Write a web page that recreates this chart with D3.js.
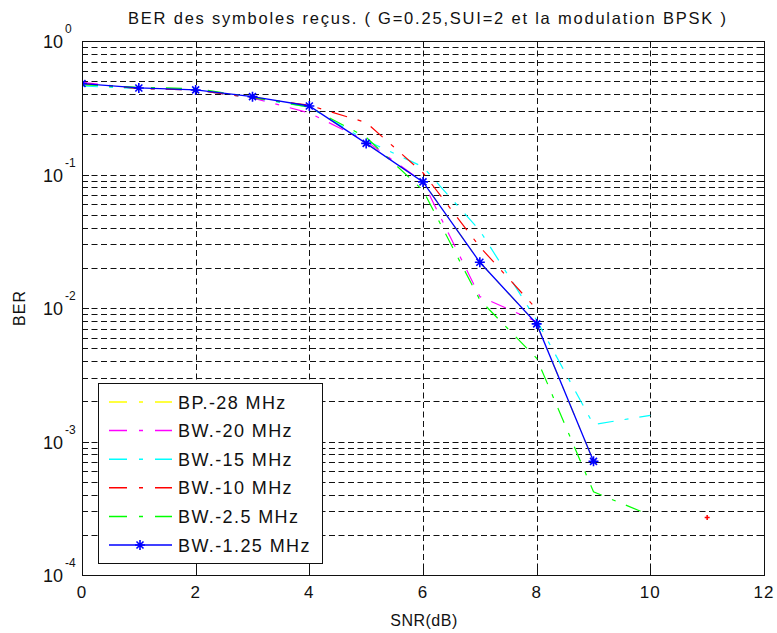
<!DOCTYPE html>
<html>
<head>
<meta charset="utf-8">
<script src="https://cdn.jsdelivr.net/npm/d3@7"></script>
<style>
  body { margin: 0; background: #fff; }
  text { font-family: Arial, "Liberation Sans", sans-serif; fill: #111; }
</style>
</head>
<body>
<svg id="chart" width="777" height="633"></svg>
<script>
const snr = [0, 1, 2, 3, 4, 5, 6, 7, 8, 9, 10];
const xTicks = [0, 2, 4, 6, 8, 10, 12];
const yDecades = [1, 0.1, 0.01, 0.001, 0.0001];
const yExponents = ['0', '-1', '-2', '-3', '-4'];

const bp28 = [0.48, 0.445, 0.43, 0.383, 0.326, 0.171, 0.088, 0.022, 0.0076, 0.00071];
const bw20 = [0.49, 0.44, 0.43, 0.375, 0.289, 0.178, 0.088, 0.0122, 0.0079];
const bw15 = [0.46, 0.44, 0.43, 0.375, 0.32, 0.18, 0.114, 0.038, 0.0081, 0.00134, 0.00157];
const bw10 = [0.48, 0.44, 0.43, 0.375, 0.33, 0.245, 0.103, 0.0287, 0.0098];
const bw10Extra = [[11, 0.00027]];
const bw25 = [0.47, 0.45, 0.44, 0.38, 0.32, 0.19, 0.076, 0.0115, 0.0042, 0.00042, 0.00028];
const bw125 = [0.48, 0.445, 0.43, 0.383, 0.326, 0.171, 0.088, 0.022, 0.0076, 0.00071];

const labels = ['BP.-28 MHz', 'BW.-20 MHz', 'BW.-15 MHz', 'BW.-10 MHz', 'BW.-2.5 MHz', 'BW.-1.25 MHz'];
const colors = ['#ffff00', '#ff00ff', '#00ffff', '#ff0000', '#00ff00', '#0000ff'];
const seriesValues = [bp28, bw20, bw15, bw10, bw25, bw125];

(function draw() {
  const svg = d3.select('#chart');
  const pl = 82, pr = 764, pt = 41, pb = 575;

  const x = d3.scaleLinear().domain([0, 12]).range([pl, pr]);
  const y = d3.scaleLog().domain([1e-4, 1]).range([pb, pt]);

  // grid lines
  const minor = [];
  [1e-4, 1e-3, 1e-2, 1e-1].forEach(d => {
    for (let k = 2; k <= 9; k++) minor.push(d * k);
  });
  const gridY = minor.concat(yDecades.slice(1, 4));

  svg.append('g')
    .selectAll('line')
    .data(gridY)
    .join('line')
    .attr('x1', pl)
    .attr('x2', pr)
    .attr('y1', d => Math.round(y(d)) + 0.5)
    .attr('y2', d => Math.round(y(d)) + 0.5)
    .attr('stroke', '#111')
    .attr('stroke-dasharray', '6,3.5');

  svg.append('g')
    .selectAll('line')
    .data(xTicks.slice(1, -1))
    .join('line')
    .attr('x1', d => Math.round(x(d)) + 0.5)
    .attr('x2', d => Math.round(x(d)) + 0.5)
    .attr('y1', pt)
    .attr('y2', pb)
    .attr('stroke', '#111')
    .attr('stroke-dasharray', '6,3.5');

  // ticks (inward, both sides)
  const tickG = svg.append('g').attr('stroke', '#111');
  xTicks.forEach(d => {
    const px = Math.round(x(d)) + 0.5;
    tickG.append('line').attr('x1', px).attr('x2', px).attr('y1', pb).attr('y2', pb - 7);
    tickG.append('line').attr('x1', px).attr('x2', px).attr('y1', pt).attr('y2', pt + 7);
  });
  yDecades.concat(minor).forEach((d, i) => {
    const py = Math.round(y(d)) + 0.5;
    const len = i < yDecades.length ? 7 : 4;
    tickG.append('line').attr('x1', pl).attr('x2', pl + len).attr('y1', py).attr('y2', py);
    tickG.append('line').attr('x1', pr).attr('x2', pr - len).attr('y1', py).attr('y2', py);
  });

  // data lines
  svg.append('clipPath').attr('id', 'clip')
    .append('rect').attr('x', pl).attr('y', pt).attr('width', pr - pl).attr('height', pb - pt);

  const line = d3.line()
    .x((d, i) => x(snr[i]))
    .y(d => y(d));

  const plot = svg.append('g').attr('clip-path', 'url(#clip)');

  plot.selectAll('path.series')
    .data(seriesValues)
    .join('path')
    .attr('class', 'series')
    .attr('d', d => line(d))
    .attr('fill', 'none')
    .attr('stroke', (d, i) => colors[i])
    .attr('stroke-width', (d, i) => i === 5 ? 1.3 : 1.2)
    .attr('stroke-dasharray', (d, i) => i === 5 ? null : '16,11,4,11');

  const star = 'M-5,0H5M0,-5V5M-3.5,-3.5L3.5,3.5M-3.5,3.5L3.5,-3.5';

  plot.selectAll('path.star')
    .data(bw125)
    .join('path')
    .attr('class', 'star')
    .attr('transform', (d, i) => `translate(${x(snr[i])},${y(d)})`)
    .attr('d', star)
    .attr('stroke', colors[5])
    .attr('stroke-width', 1.6);

  plot.selectAll('path.extra')
    .data(bw10Extra)
    .join('path')
    .attr('class', 'extra')
    .attr('transform', d => `translate(${x(d[0])},${y(d[1])})`)
    .attr('d', 'M-2.5,0H2.5M0,-2.5V2.5')
    .attr('stroke', colors[3])
    .attr('stroke-width', 1.5);

  // frame
  svg.append('rect')
    .attr('x', pl + 0.5).attr('y', pt + 0.5)
    .attr('width', pr - pl).attr('height', pb - pt)
    .attr('fill', 'none')
    .attr('stroke', '#111');

  // tick labels
  svg.append('g')
    .selectAll('text')
    .data(xTicks)
    .join('text')
    .attr('x', d => x(d))
    .attr('y', 598)
    .attr('text-anchor', 'middle')
    .attr('font-size', 17)
    .attr('letter-spacing', 1)
    .text(d => d);

  const yl = svg.append('g');
  yl.selectAll('text.base')
    .data(yDecades)
    .join('text')
    .attr('class', 'base')
    .attr('x', 63)
    .attr('y', d => y(d) + 7)
    .attr('text-anchor', 'end')
    .attr('font-size', 18)
    .text('10');
  yl.selectAll('text.exp')
    .data(yDecades)
    .join('text')
    .attr('class', 'exp')
    .attr('x', 65)
    .attr('y', d => y(d) - 8)
    .attr('font-size', 12)
    .text((d, i) => yExponents[i]);

  // titles
  svg.append('text')
    .attr('x', 427)
    .attr('y', 24)
    .attr('text-anchor', 'middle')
    .attr('font-size', 16.5)
    .attr('textLength', 598)
    .attr('lengthAdjust', 'spacing')
    .text('BER des symboles reçus. ( G=0.25,SUI=2 et la modulation BPSK )');

  svg.append('text')
    .attr('x', 424)
    .attr('y', 626)
    .attr('text-anchor', 'middle')
    .attr('font-size', 16)
    .attr('letter-spacing', 0.5)
    .text('SNR(dB)');

  svg.append('text')
    .attr('transform', 'translate(25,308) rotate(-90)')
    .attr('text-anchor', 'middle')
    .attr('font-size', 16)
    .attr('letter-spacing', 1)
    .text('BER');

  // legend
  const lg = svg.append('g');
  lg.append('rect')
    .attr('x', 98.5).attr('y', 383.5)
    .attr('width', 224).attr('height', 180)
    .attr('fill', '#fff')
    .attr('stroke', '#111');

  const rows = lg.selectAll('g.row')
    .data(labels)
    .join('g')
    .attr('class', 'row')
    .attr('transform', (d, i) => `translate(0,${402 + i * 28.6})`);

  rows.append('line')
    .attr('x1', 109).attr('x2', 172)
    .attr('stroke', (d, i) => colors[i])
    .attr('stroke-width', 1.5)
    .attr('stroke-dasharray', (d, i) => i === 5 ? null : '18,12,4,12');

  rows.filter((d, i) => i === 5)
    .append('path')
    .attr('transform', 'translate(140,0)')
    .attr('d', star)
    .attr('stroke', colors[5])
    .attr('stroke-width', 1.6);

  rows.append('text')
    .attr('x', 178)
    .attr('y', 6.5)
    .attr('font-size', 18)
    .attr('letter-spacing', 1.4)
    .text(d => d);
})();
</script>
</body>
</html>
